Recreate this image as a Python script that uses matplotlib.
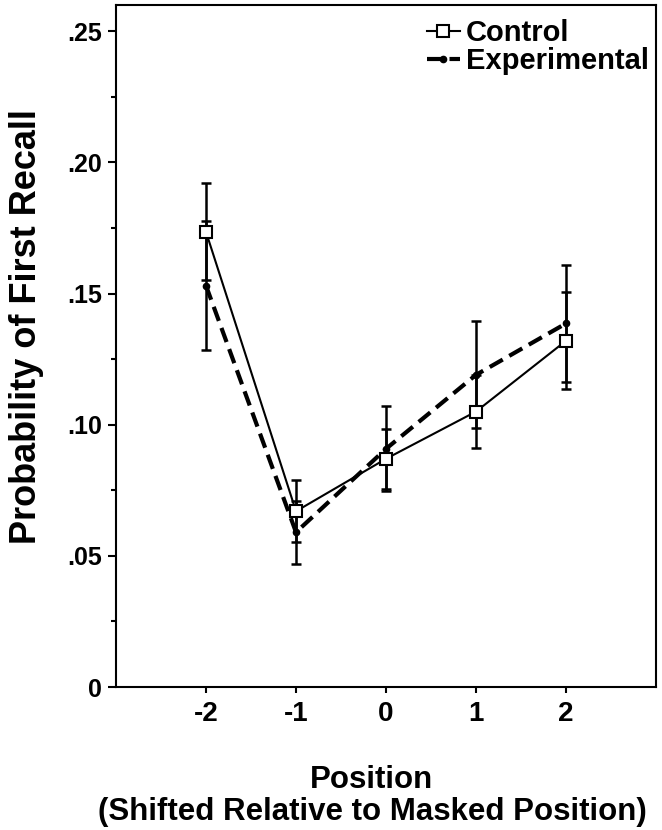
import matplotlib
matplotlib.use("Agg")
import matplotlib.pyplot as plt
from matplotlib.ticker import MultipleLocator
from matplotlib.transforms import IdentityTransform

positions = [-2, -1, 0, 1, 2]
tick_labels = ["-2", "-1", "0", "1", "2"]
control = [0.1735, 0.067, 0.087, 0.105, 0.132]
control_err = [0.0185, 0.0118, 0.0114, 0.014, 0.0184]
experimental = [0.153, 0.059, 0.0908, 0.119, 0.1386]
experimental_err = [0.0245, 0.012, 0.0162, 0.0204, 0.0224]
yticks = [0, 0.05, 0.10, 0.15, 0.20, 0.25]
ytick_labels = ["0", ".05", ".10", ".15", ".20", ".25"]

main_font = ["Liberation Sans", "DejaVu Sans"]

W, H = 662, 830
fig = plt.figure(figsize=(W/100, H/100), dpi=100)
ax = fig.add_axes([116/W, 1-687/H, (656-116)/W, (687-5)/H])

ax.errorbar(positions, control, yerr=control_err, fmt='none', ecolor='black',
            elinewidth=1.8, capsize=3.8, capthick=1.8, zorder=2)
ax.errorbar(positions, experimental, yerr=experimental_err, fmt='none', ecolor='black',
            elinewidth=1.8, capsize=3.8, capthick=1.8, zorder=2)
ax.plot(positions, control, color='black', lw=1.5, marker='s', markersize=8,
        markerfacecolor='white', markeredgecolor='black', markeredgewidth=1.5,
        label='Control', zorder=3)
ax.plot(positions, experimental, color='black', lw=3, linestyle=(0, (3.6, 1.8)),
        marker='o', markersize=4.5, markerfacecolor='black', markeredgecolor='black',
        label='Experimental', zorder=4)

ax.set_xlim(-3, 3)
ax.set_ylim(0, 0.26)
ax.set_xticks(positions)
ax.set_xticklabels(tick_labels, fontfamily=main_font, fontweight='bold', fontsize=20)
ax.set_yticks(yticks)
ax.set_yticklabels(ytick_labels, fontfamily=main_font, fontweight='bold', fontsize=18)
ax.yaxis.set_minor_locator(MultipleLocator(0.025))
ax.tick_params(axis='y', which='major', direction='out', length=6, width=1.5, pad=4)
ax.tick_params(axis='y', which='minor', direction='out', length=3.5, width=1.5)
ax.tick_params(axis='x', which='major', direction='out', length=4, width=1.5, pad=6)
for sp in ax.spines.values():
    sp.set_linewidth(1.5)

ax.set_xlabel("Position\n(Shifted Relative to Masked Position)", fontfamily=main_font,
              fontweight='bold', fontsize=22.5, linespacing=1.1)
ax.xaxis.set_label_coords((372-116)/(656-116), -(796-687)/(687-5), transform=ax.transAxes)
ax.xaxis.label.set_va('center')
ax.set_ylabel("Probability of First Recall", fontfamily=main_font, fontweight='bold', fontsize=26)
ax.yaxis.set_label_coords(-(116-27)/(656-116), (687-327)/(687-5))
ax.yaxis.label.set_va('center')

leg = ax.legend(loc='upper right', frameon=False,
                prop={'family': main_font, 'weight': 'bold', 'size': 21},
                handlelength=1.15, handletextpad=0.2, labelspacing=0.0,
                borderaxespad=0.0, borderpad=0.0,
                bbox_to_anchor=((649-116)/(656-116), (687-19)/(687-5)))

fig.savefig("out.png", dpi=100)
